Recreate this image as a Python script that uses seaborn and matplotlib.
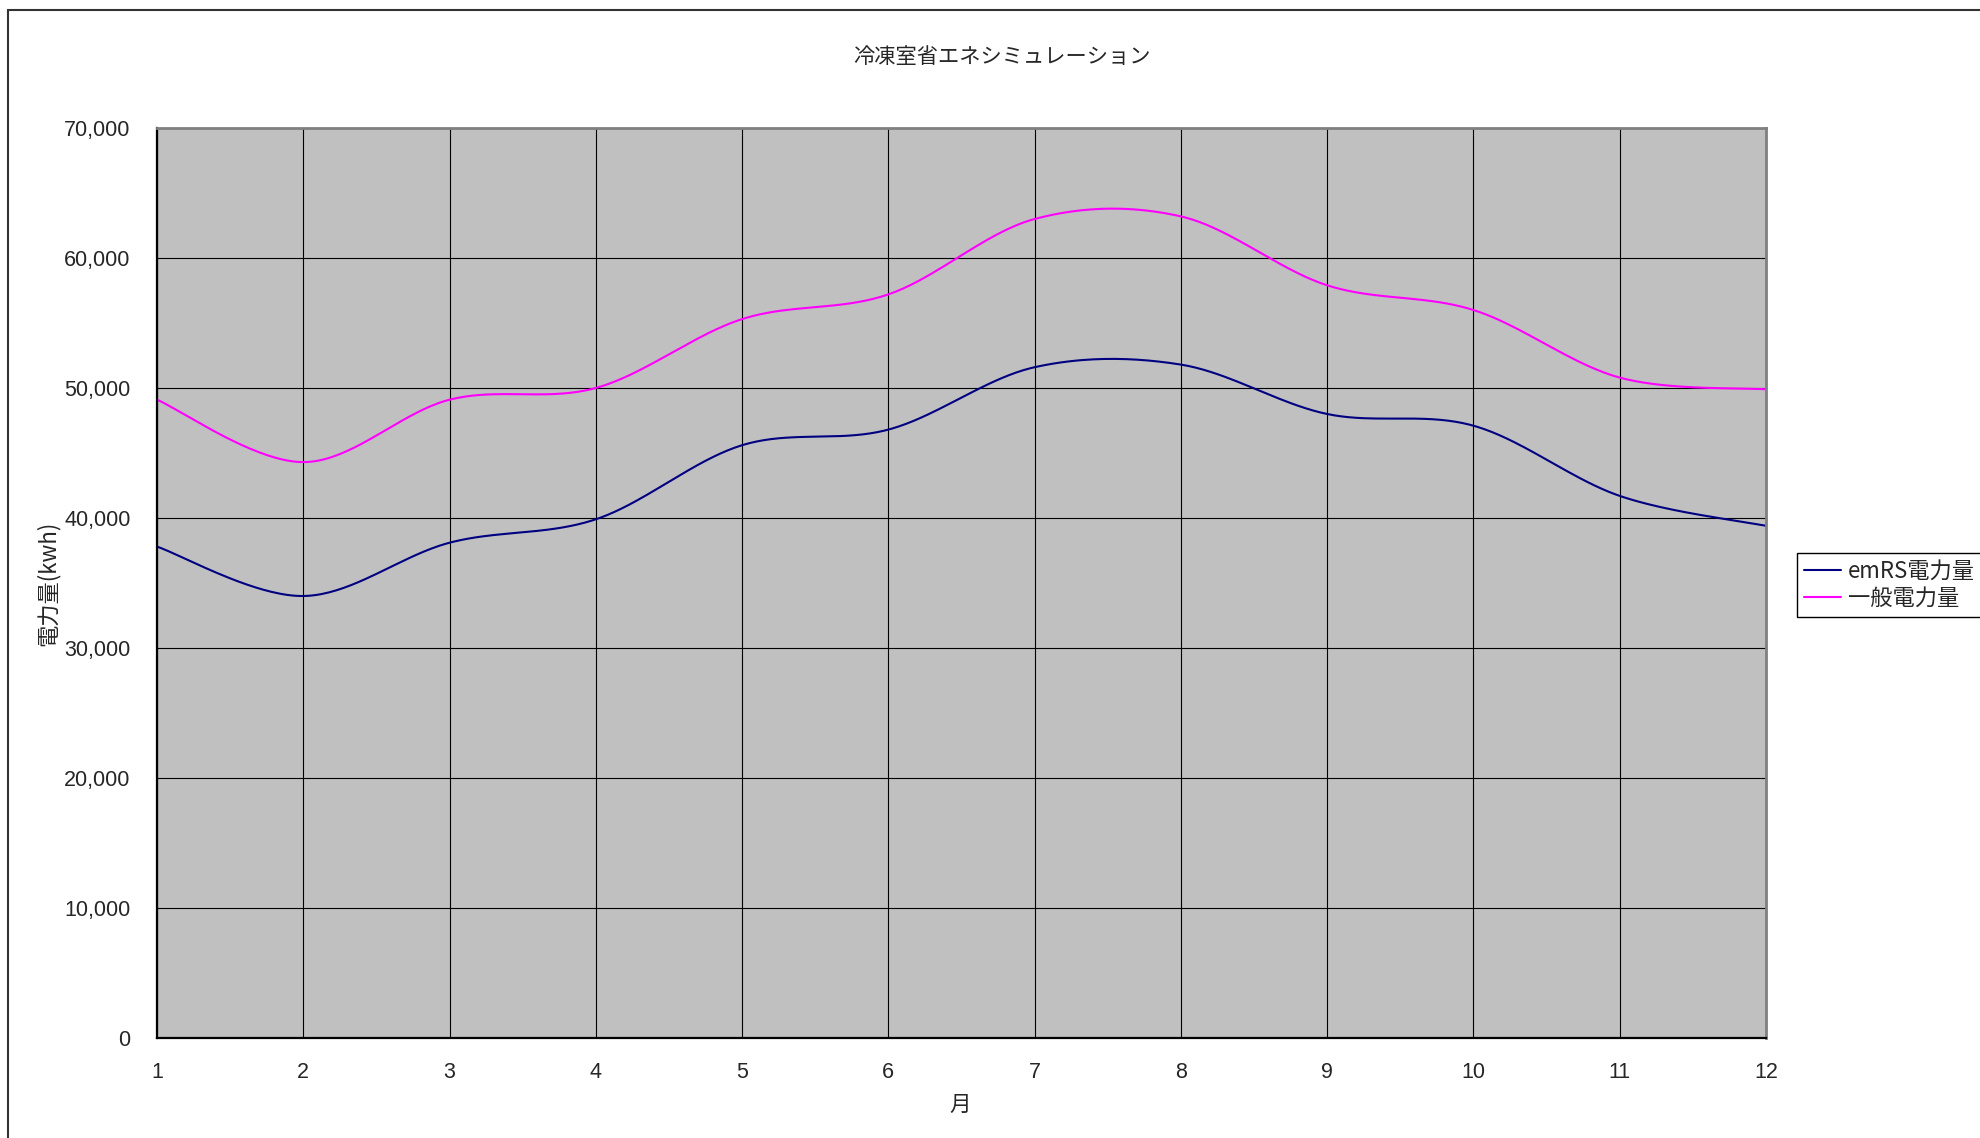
import numpy as np
import pandas as pd
import matplotlib
matplotlib.use("Agg")
import matplotlib.pyplot as plt
import seaborn as sns
from matplotlib.patches import Rectangle

# ---- data ----
months = [1, 2, 3, 4, 5, 6, 7, 8, 9, 10, 11, 12]
emrs_kwh = [37800, 34000, 38100, 39900, 45600, 46800, 51600, 51800, 48000, 47100, 41700, 39400]
general_kwh = [49100, 44300, 49100, 50000, 55300, 57200, 63000, 63200, 57900, 56000, 50800, 49900]
series_names = ["emRS電力量", "一般電力量"]
y_ticks = [0, 10000, 20000, 30000, 40000, 50000, 60000, 70000]
title_text = "冷凍室省エネシミュレーション"
xlabel_text = "月"
ylabel_text = "電力量(kwh)"


def smooth(xs, ys, n=40):
    """Excel-style smoothed line (Catmull-Rom Bezier) rendering of the data."""
    xs = np.asarray(xs, float)
    ys = np.asarray(ys, float)
    px = np.concatenate([[xs[0]], xs, [xs[-1]]])
    py = np.concatenate([[ys[0]], ys, [ys[-1]]])
    out_x, out_y = [], []
    t = np.linspace(0, 1, n, endpoint=False)
    for i in range(1, len(px) - 2):
        p0 = np.array([px[i], py[i]])
        p3 = np.array([px[i + 1], py[i + 1]])
        c1 = p0 + (np.array([px[i + 1], py[i + 1]]) - np.array([px[i - 1], py[i - 1]])) / 6
        c2 = p3 - (np.array([px[i + 2], py[i + 2]]) - np.array([px[i], py[i]])) / 6
        b = ((1 - t) ** 3)[:, None] * p0 + (3 * (1 - t) ** 2 * t)[:, None] * c1 \
            + (3 * (1 - t) * t ** 2)[:, None] * c2 + (t ** 3)[:, None] * p3
        out_x.extend(b[:, 0])
        out_y.extend(b[:, 1])
    out_x.append(xs[-1])
    out_y.append(ys[-1])
    return np.array(out_x), np.array(out_y)


frames = []
for name, vals in zip(series_names, [emrs_kwh, general_kwh]):
    sx, sy = smooth(months, vals)
    frames.append(pd.DataFrame({"月": sx, "値": sy, "系列": name, "order": np.arange(len(sx))}))
df = pd.concat(frames, ignore_index=True)

sns.set_style("white")
plt.rcParams["font.family"] = ["Noto Sans CJK JP", "DejaVu Sans"]

W, H = 1981, 1138
fig = plt.figure(figsize=(W / 100, H / 100), dpi=100)
fig.patch.set_facecolor("white")

L, R, T, B = 157, 1766, 128, 1038
ax = fig.add_axes([L / W, 1 - B / H, (R - L) / W, (B - T) / H])
ax.set_facecolor("#C0C0C0")

sns.lineplot(data=df, x="月", y="値", hue="系列", palette=["#000080", "#FF00FF"],
             hue_order=series_names, sort=False, estimator=None, units="系列",
             linewidth=1.5, ax=ax, legend=True)

ax.set_xlim(1, 12)
ax.set_ylim(0, 70000)
ax.set_xticks(months)
ax.set_xticklabels([str(m) for m in months])
ax.set_yticks(y_ticks)
ax.set_yticklabels([f"{v:,}" for v in y_ticks])
ax.grid(True, color="black", linewidth=0.8)
ax.set_axisbelow(True)
ax.tick_params(axis="both", length=0, labelsize=15.5)
ax.tick_params(axis="y", pad=19)
ax.tick_params(axis="x", pad=17)
for lab in ax.get_xticklabels() + ax.get_yticklabels():
    lab.set_fontfamily(["Liberation Sans", "DejaVu Sans"])

for s in ["left", "bottom"]:
    ax.spines[s].set_color("black")
    ax.spines[s].set_linewidth(1.6)
for s in ["top", "right"]:
    ax.spines[s].set_color("#808080")
    ax.spines[s].set_linewidth(2.0)

ax.set_xlabel(xlabel_text, fontsize=15.5)
ax.xaxis.set_label_coords((960 - L) / (R - L), (B - 1105) / (B - T))
ax.xaxis.label.set_va("center")
ax.set_ylabel(ylabel_text, fontsize=16)
ax.yaxis.set_label_coords((48 - L) / (R - L), 0.5)
ax.yaxis.label.set_va("center")

ax.set_title(title_text, fontsize=15.3, x=(1002 - L) / (R - L), y=(B - 57) / (B - T),
             va="center", pad=0)

handles, labels = ax.get_legend_handles_labels()
leg = ax.legend(handles, labels, loc="upper left",
                bbox_to_anchor=(1797 / W, 1 - 553 / H), bbox_transform=fig.transFigure,
                borderaxespad=0, fontsize=16, frameon=True, fancybox=False,
                edgecolor="black", framealpha=1, borderpad=0.3, labelspacing=0.2,
                handlelength=1.7, handletextpad=0.3)
leg.get_frame().set_linewidth(1.0)
for line in leg.get_lines():
    line.set_linewidth(1.5)

# outer chart-area border (extends past right and bottom edges)
fig.patches.append(Rectangle((8 / W, -0.05), 1.1, 1 - 10 / H + 0.05,
                             transform=fig.transFigure, fill=False,
                             edgecolor="#333333", linewidth=1.5))

fig.savefig("out.png", dpi=100)
